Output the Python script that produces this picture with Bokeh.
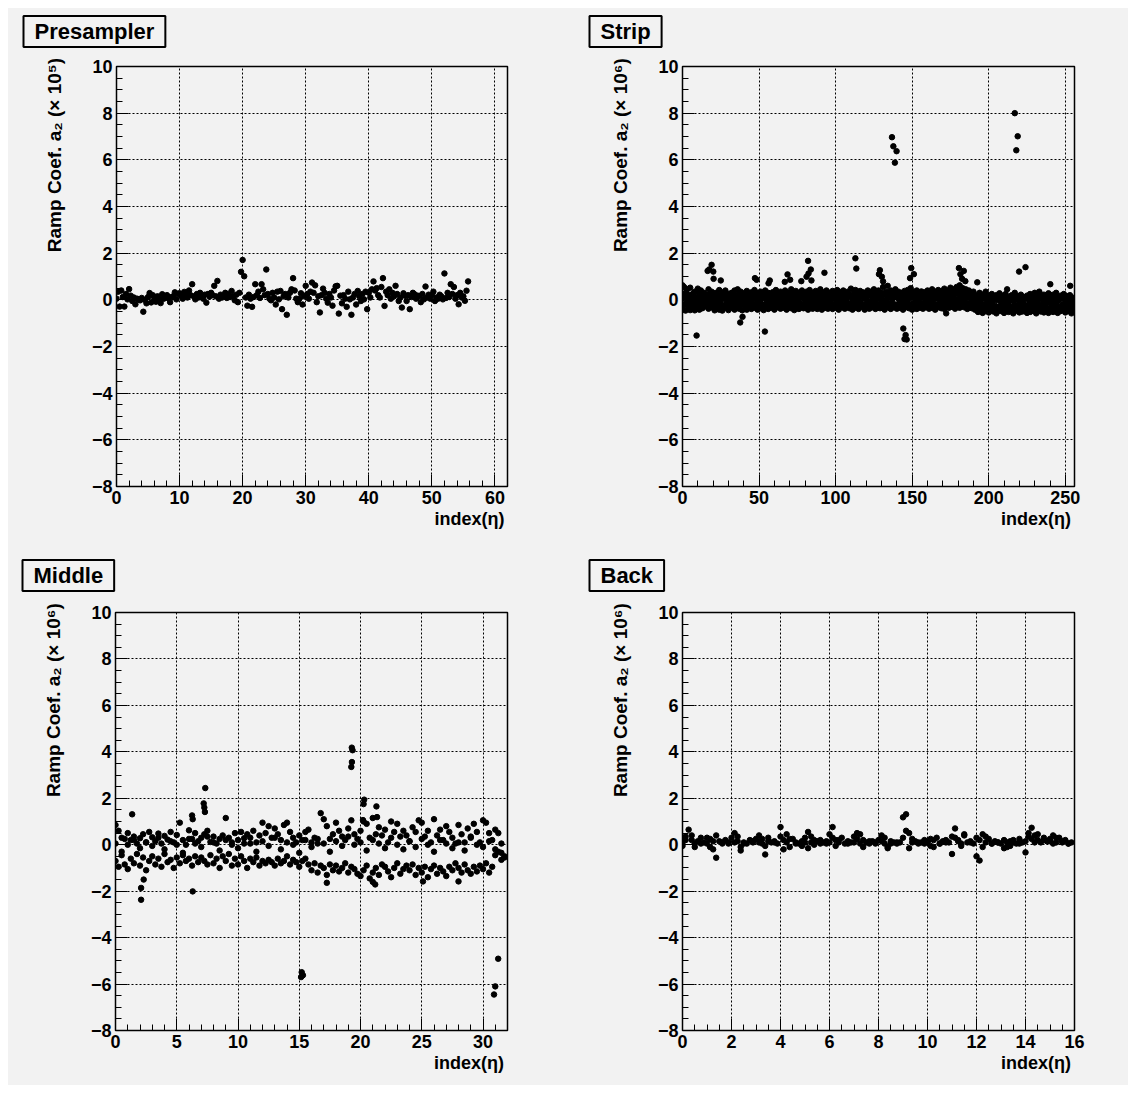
import math
from bokeh.plotting import figure
from bokeh.models import Range1d, FixedTicker, Label, Spacer
from bokeh.layouts import column, row
from bokeh.embed import file_html
from bokeh.resources import INLINE

nan = float("nan")
BG = "#f2f2f2"
FONT = "Liberation Sans"
NBSP = "\u00a0"

# ---------------- data ----------------
panel_titles = ["Presampler", "Strip", "Middle", "Back"]
y_titles = ["Ramp Coef. a\u2082 (\u00d7 10\u2075)", "Ramp Coef. a\u2082 (\u00d7 10\u2076)",
            "Ramp Coef. a\u2082 (\u00d7 10\u2076)", "Ramp Coef. a\u2082 (\u00d7 10\u2076)"]
x_title = "index(\u03b7)"
y_ticks = [-8, -6, -4, -2, 0, 2, 4, 6, 8, 10]

# Presampler: four phi groups per eta index 0..55
pres_k0 = [0.05,0.12,0.46,-0.19,0.08,0.12,0.02,-0.14,0.20,0.15, 0.28,0.22,0.67,0.10,0.22,0.30,0.81,0.18,0.12,0.22,
           1.71,0.22,0.67,0.67,0.25,0.10,0.38,-0.64,0.93,0.05, 0.60,0.74,0.15,0.30,0.10,0.60,0.20,0.02,-0.20,0.25,
           0.30,0.40,0.55,0.20,0.15,0.10,-0.05,0.30,0.15,0.57, 0.20,0.05,1.13,0.67,0.20,0.15]
pres_k1 = [0.35,-0.29,0.18,0.05,-0.51,0.29,-0.08,0.24,0.06,0.32, 0.18,0.10,0.15,0.30,-0.12,0.20,0.05,0.30,0.38,-0.10,
           1.01,0.05,0.20,0.45,0.05,-0.20,-0.40,0.10,0.40,0.28, 0.25,0.30,-0.54,0.05,-0.25,-0.59,0.05,-0.64,0.38,0.02,
           0.10,0.50,0.93,0.45,0.60,-0.33,0.20,0.24,-0.10,0.10, 0.35,0.22,0.08,0.25,-0.19,-0.04]
pres_k2 = [-0.29,0.25,-0.05,0.02,0.00,-0.11,0.15,0.05,-0.10,0.02, 0.05,0.40,0.02,0.18,0.25,0.60,0.22,0.08,0.15,0.30,
           0.10,-0.30,0.35,0.20,-0.02,0.35,0.15,0.30,0.05,-0.20, 0.05,0.62,0.20,-0.12,0.40,0.18,-0.30,0.10,0.15,0.35,
           0.45,0.20,-0.26,0.05,0.25,0.28,-0.40,0.05,0.25,0.22, -0.05,0.15,0.30,0.55,0.30,0.39]
pres_k3 = [0.40,0.02,0.10,-0.02,-0.15,0.20,0.03,0.10,0.12,0.26, 0.34,0.20,0.25,0.05,0.14,0.15,0.10,0.25,-0.02,1.20,
           -0.25,0.12,0.08,1.30,0.30,0.02,0.25,0.45,-0.10,0.15, 0.35,-0.10,0.48,0.25,0.58,-0.15,0.35,0.25,-0.05,-0.40,
           0.79,0.10,0.35,0.30,-0.05,0.18,0.12,0.18,0.02,0.05, 0.10,0.02,0.12,0.05,0.10,0.79]

# Strip: three values per eta index 0..255, plus isolated points
strip_a = [0.62,0.55,0.30,0.45,0.10,0.52,0.20,-0.10,0.35,0.05,0.48,0.25,0.40,0.15,0.30,0.05,
           0.20,0.45,0.10,0.35,0.28,0.05,0.30,0.15,0.42,0.20,0.08,0.33,0.40,0.12,0.25,0.05,
           0.30,0.18,0.40,0.10,0.45,0.22,0.35,0.05,0.28,0.15,0.38,0.20,0.10,0.32,0.25,0.42,
           0.15,0.30,0.05,0.35,0.22,0.10,0.40,0.18,0.30,0.25,0.08,0.33,0.20,0.42,0.12,0.28,
           0.35,0.05,0.22,0.40,0.15,0.30,0.10,0.45,0.25,0.18,0.38,0.05,0.30,0.22,0.40,0.12,
           0.28,0.35,0.10,0.42,0.20,0.30,0.15,0.38,0.05,0.25,0.45,0.18,0.32,0.10,0.40,0.22,
           0.30,0.12,0.38,0.25,0.05,0.42,0.20,0.33,0.15,0.40,0.28,0.10,0.35,0.22,0.48,0.18,
           0.30,0.42,0.10,0.25,0.38,0.15,0.32,0.05,0.28,0.40,0.20,0.35,0.12,0.45,0.25,0.30,
           0.40,0.18,0.30,0.55,0.22,0.35,0.60,0.25,0.40,0.15,0.30,0.45,0.20,0.35,0.10,0.30,
           0.25,0.38,0.15,0.42,0.30,0.50,0.20,0.35,0.12,0.40,0.28,0.18,0.36,0.10,0.32,0.25,
           0.40,0.15,0.30,0.45,0.22,0.35,0.12,0.42,0.28,0.38,0.18,0.48,0.25,0.40,0.30,0.52,
           0.35,0.45,0.28,0.55,0.40,0.62,0.30,0.50,0.38,0.45,0.25,0.40,0.32,0.20,0.35,0.15,
           0.20,0.10,0.30,0.05,0.22,0.12,0.35,0.02,0.18,0.08,0.25,0.00,0.15,0.20,0.05,0.28,
           0.10,0.18,0.02,0.25,0.45,0.12,0.05,0.20,0.10,0.30,0.02,0.15,0.08,0.22,0.00,0.12,
           0.05,0.18,0.10,0.25,0.02,0.15,0.30,0.08,0.20,0.35,0.12,0.05,0.22,0.10,0.18,0.28,
           0.05,0.15,0.22,0.08,0.30,0.12,0.02,0.18,0.10,0.25,0.05,0.15,0.08,0.20,0.12,0.02]
strip_b = [0.05,-0.20,0.15,-0.10,0.22,-0.05,0.10,0.28,-0.15,0.12,0.00,-0.22,0.18,-0.08,0.05,0.20,
           -0.12,0.08,0.25,-0.05,0.10,-0.18,0.02,0.20,-0.10,0.15,-0.25,0.05,0.12,-0.08,0.22,0.00,
           -0.15,0.10,-0.05,0.20,0.02,-0.20,0.12,-0.08,0.18,0.00,-0.12,0.08,0.22,-0.05,0.10,-0.18,
           0.05,-0.10,0.20,-0.02,0.15,-0.22,0.08,0.00,-0.15,0.12,0.20,-0.08,0.05,-0.18,0.10,0.02,
           -0.05,0.18,-0.20,0.10,0.00,0.22,-0.12,0.05,0.15,-0.08,0.25,-0.15,0.02,0.12,-0.22,0.08,
           0.00,-0.10,0.20,0.05,-0.18,0.12,-0.05,0.22,0.02,-0.15,0.10,-0.02,0.18,-0.20,0.08,0.00,
           -0.12,0.15,0.02,-0.20,0.22,-0.05,0.10,-0.15,0.05,0.18,-0.08,0.00,0.25,-0.18,0.12,-0.02,
           0.08,-0.15,0.20,0.00,-0.10,0.15,-0.22,0.05,0.12,-0.05,0.22,-0.12,0.02,0.18,-0.08,0.10,
           -0.18,0.05,0.15,-0.02,0.25,-0.10,0.08,0.20,-0.15,0.00,0.12,-0.20,0.18,0.05,-0.08,0.22,
           0.02,-0.12,0.15,-0.05,0.20,0.08,-0.18,0.12,0.00,0.22,-0.10,0.05,0.18,-0.15,0.10,-0.02,
           0.15,-0.08,0.22,0.02,-0.15,0.12,0.05,-0.20,0.18,0.00,-0.10,0.25,0.08,-0.05,0.15,0.02,
           -0.12,0.20,0.05,-0.08,0.28,0.10,-0.02,0.18,0.00,0.22,-0.15,0.08,0.12,-0.10,0.05,-0.20,
           -0.05,-0.25,0.10,-0.15,-0.30,0.05,-0.20,-0.10,0.02,-0.35,-0.08,0.12,-0.25,-0.02,-0.40,0.08,
           -0.15,-0.30,0.05,-0.10,-0.45,-0.20,0.00,-0.35,-0.05,-0.22,0.10,-0.40,-0.12,-0.28,0.02,-0.18,
           -0.35,0.05,-0.22,-0.10,-0.48,-0.15,0.00,-0.30,-0.08,-0.25,0.05,-0.40,-0.12,-0.20,-0.02,-0.35,
           -0.10,-0.28,0.00,-0.45,-0.15,-0.05,-0.32,0.05,-0.20,-0.38,-0.08,-0.15,-0.42,0.00,-0.25,-0.12]
strip_c = [-0.42,-0.22,-0.46,-0.15,-0.34,-0.44,-0.26,-0.11,-0.45,-0.30,-0.19,-0.42,-0.22,-0.36,-0.15,-0.28,
           -0.19,-0.38,-0.26,-0.11,-0.34,-0.45,-0.21,-0.30,-0.42,-0.15,-0.46,-0.26,-0.34,-0.19,-0.44,-0.22,
           -0.34,-0.17,-0.42,-0.26,-0.11,-0.38,-0.22,-0.45,-0.19,-0.32,-0.42,-0.14,-0.28,-0.39,-0.21,-0.34,
           -0.26,-0.42,-0.15,-0.36,-0.22,-0.44,-0.19,-0.30,-0.39,-0.11,-0.34,-0.26,-0.42,-0.21,-0.32,-0.15,
           -0.38,-0.22,-0.34,-0.17,-0.42,-0.28,-0.14,-0.36,-0.24,-0.44,-0.19,-0.32,-0.39,-0.15,-0.26,-0.36,
           -0.21,-0.34,-0.42,-0.17,-0.28,-0.38,-0.22,-0.11,-0.39,-0.30,-0.19,-0.42,-0.26,-0.34,-0.15,-0.38,
           -0.30,-0.19,-0.39,-0.26,-0.34,-0.14,-0.42,-0.22,-0.32,-0.19,-0.38,-0.28,-0.15,-0.36,-0.24,-0.42,
           -0.19,-0.34,-0.26,-0.39,-0.15,-0.30,-0.22,-0.42,-0.34,-0.21,-0.38,-0.26,-0.32,-0.17,-0.39,-0.28,
           -0.22,-0.36,-0.17,-0.30,-0.42,-0.26,-0.14,-0.34,-0.39,-0.21,-0.32,-0.26,-0.38,-0.19,-0.34,-0.28,
           -0.42,-0.22,-0.32,-0.15,-0.36,-0.26,-0.42,-0.21,-0.30,-0.39,-0.19,-0.34,-0.28,-0.38,-0.17,-0.32,
           -0.26,-0.38,-0.19,-0.34,-0.28,-0.42,-0.22,-0.32,-0.15,-0.36,-0.26,-0.39,-0.21,-0.30,-0.34,-0.19,
           -0.30,-0.21,-0.38,-0.26,-0.17,-0.34,-0.28,-0.11,-0.32,-0.22,-0.39,-0.19,-0.30,-0.36,-0.22,-0.42,
           -0.36,-0.52,-0.24,-0.44,-0.56,-0.32,-0.48,-0.28,-0.54,-0.40,-0.20,-0.50,-0.36,-0.58,-0.30,-0.44,
           -0.48,-0.28,-0.56,-0.38,-0.22,-0.52,-0.42,-0.32,-0.58,-0.24,-0.46,-0.36,-0.54,-0.28,-0.50,-0.40,
           -0.32,-0.56,-0.44,-0.52,-0.24,-0.48,-0.38,-0.58,-0.28,-0.46,-0.50,-0.20,-0.54,-0.36,-0.44,-0.56,
           -0.40,-0.30,-0.52,-0.22,-0.46,-0.56,-0.36,-0.48,-0.28,-0.44,-0.54,-0.34,-0.24,-0.50,-0.58,-0.38]
strip_out_x = [136.8,137.7,139.8,138.7,217.0,218.9,218.0,
               9.2,53.8,144.2,145.7,146.4,145.0,37.7,39.2,172.2,
               16.4,17.4,19.0,20.1,20.3,25.0,47.3,48.4,56.2,57.0,
               66.8,68.6,70.3,77.6,81.0,82.0,82.3,83.8,84.2,92.7,112.9,113.5,
               128.3,128.9,130.2,131.0,148.6,149.4,151.1,180.5,181.5,182.6,183.7,184.7,
               192.5,219.8,224.0,240.2,253.2]
strip_out_y = [6.97,6.58,6.37,5.88,8.00,7.01,6.41,
               -1.53,-1.36,-1.23,-1.51,-1.70,-1.68,-0.97,-0.73,-0.58,
               1.24,1.30,1.50,1.21,0.90,0.83,0.93,0.86,0.71,0.83,
               0.77,1.09,0.86,0.80,0.99,1.67,1.13,1.30,0.83,1.16,1.78,1.34,
               1.10,1.27,0.99,0.79,0.93,1.36,1.10,1.36,1.10,0.90,1.24,0.80,
               0.75,1.21,1.40,0.67,0.60]

# Middle: quarter-step positions (upper and lower populations), half-step central values, isolated points
mid_hi = [0.85,0.60,0.30,0.25, 0.50,0.20,0.35,0.05, 0.28,0.45,0.10,0.55, 0.32,0.15,0.48,0.05,
          0.38,0.22,0.55,0.10, 0.42,0.95,0.20,0.00, 0.62,0.25,0.50,0.15, 0.30,0.45,0.60,0.12,
          0.35,0.05,0.25,0.40, 1.15,0.30,0.10,0.50, 0.20,0.55,0.05,0.45, 0.30,0.60,0.10,0.40,
          0.95,0.50,0.80,0.30, 0.70,0.45,0.20,0.85, 0.95,0.55,0.30,0.10, 0.40,0.20,0.55,0.65,
          0.10,0.30,0.05,1.36, 1.10,0.80,0.25,0.45, 0.95,0.60,0.35,0.20, 0.70,1.05,0.45,0.25,
          0.60,1.00,0.90,0.30, 1.15,0.45,0.75,0.40, 0.65,0.10,1.00,0.55, 0.90,0.35,0.60,0.40,
          0.15,0.75,0.55,1.05, 0.95,0.35,0.60,0.10, 1.10,0.40,0.65,0.20, 0.80,0.55,0.30,0.05,
          0.85,0.45,0.10,0.70, 0.35,0.90,0.55,0.10, 1.05,0.95,0.50,0.20, 0.65,0.50,-0.35,-0.55]
mid_lo = [-0.70,-0.95,-0.45,-0.85, -1.05,-0.60,-0.80,-0.40, -0.90,-0.55,-1.10,-0.70, -0.50,-0.85,-0.60,-0.95,
          -0.40,-0.75,-0.65,-1.00, -0.55,-0.80,-0.45,-0.70, -0.60,-0.90,-0.50,-0.75, -0.55,-0.70,-0.85,-0.45,
          -0.80,-0.60,-1.00,-0.50, -0.70,-0.40,-0.90,-0.60, -0.85,-0.50,-0.70,-1.00, -0.60,-0.75,-0.55,-0.90,
          -0.70,-0.80,-0.65,-0.75, -0.90,-0.60,-0.80,-0.70, -0.50,-0.85,-0.65,-0.75, -0.95,-0.70,-0.60,-0.85,
          -1.10,-0.80,-1.20,-0.90, -1.00,-1.30,-0.85,-1.10, -0.90,-1.15,-1.00,-0.80, -1.20,-0.95,-1.05,-1.25,
          -1.35,-1.10,-0.90,-1.45, -1.20,-1.00,-1.30,-0.85, -0.95,-1.15,-1.40,-1.00, -0.80,-1.25,-1.05,-0.90,
          -1.10,-0.85,-1.30,-1.00, -1.20,-0.95,-1.40,-1.05, -0.90,-1.25,-1.00,-1.15, -1.35,-0.95,-1.10,-0.80,
          -1.00,-1.20,-0.85,-1.10, -1.25,-0.95,-1.15,-0.90, -1.05,-0.80,-1.20,-0.95, -0.45,-0.30,-0.65,-0.50]
mid_mid = [0.05,-0.30,0.00,0.20,-0.15,0.10,-0.05,0.30, -0.20,0.15,0.00,-0.35,0.25,0.05,-0.10,0.35,
           0.10,-0.25,0.20,0.00,-0.15,0.28,0.05,-0.30, 0.15,-0.05,0.30,-0.20,0.10,0.00,-0.35,0.20,
           -0.10,0.25,0.05,-0.30,0.15,-0.05,0.35,0.00, 0.10,-0.25,0.20,0.05,-0.15,0.30,0.00,-0.20,
           0.15,-0.10,0.25,0.00,-0.30,0.20,0.05,-0.15, 0.10,-0.25,0.30,0.00,-0.10,0.15,-0.20,0.05]
mid_out_x = [1.36,6.25,6.3,7.2,7.25,7.3,7.33, 19.25,19.3,19.35,19.29, 20.2,20.25,20.3, 21.3,21.35,
             2.09,2.09,2.3,6.3,17.25,21.0,21.2,25.1,28.0, 15.15,15.2,15.3, 31.24,31.0,30.9]
mid_out_y = [1.31,1.26,1.10,1.78,1.60,1.41,2.44, 3.35,3.56,4.07,4.18, 1.06,1.75,1.94, 1.65,1.19,
             -1.86,-2.37,-1.50,-2.01,-1.64,-1.60,-1.71,-1.58,-1.58, -5.70,-5.49,-5.62, -4.91,-6.10,-6.45]

# Back: eighth-step positions, two readings each (nan = no point)
back_a = [0.10,0.35,0.65,0.20,0.05,0.15,0.30,0.10, 0.05,0.25,-0.20,0.40,0.15,0.10,0.20,0.05,
          0.30,0.50,0.15,-0.10,0.10,0.05,0.20,0.10, 0.25,0.40,0.05,-0.42,0.30,0.10,0.15,0.05,
          0.76,0.20,0.45,-0.10,0.25,0.10,0.05,0.15, 0.30,0.55,0.10,0.00,0.15,0.20,0.10,0.05,
          0.45,0.76,0.20,0.10,0.30,0.05,0.15,0.10, 0.35,0.50,0.05,0.20,0.10,0.05,0.15,0.10,
          0.20,0.40,0.05,-0.10,0.15,0.10,0.05,0.10, 0.30,1.31,0.50,0.10,0.15,0.05,0.10,0.20,
          0.10,0.25,-0.10,0.30,0.05,0.15,0.20,0.10, 0.35,0.70,0.20,0.05,0.40,0.10,0.15,0.05,
          0.30,-0.68,0.45,0.10,0.25,0.05,0.15,0.10, 0.05,0.20,-0.10,0.15,0.10,0.05,0.25,0.10,
          0.15,0.35,0.73,0.40,0.20,0.10,0.30,0.15, 0.25,0.40,0.10,0.30,0.15,0.20,0.05,0.10]
back_b = [-0.05,0.20,nan,0.40,-0.10,nan,0.05,nan, 0.30,-0.10,0.15,-0.56,nan,0.05,nan,0.10,
          nan,0.10,0.35,-0.25,0.05,nan,nan,0.15, nan,0.10,0.25,-0.05,0.15,nan,0.10,nan,
          0.35,-0.20,0.10,0.25,nan,0.05,nan,-0.05, 0.10,-0.15,0.35,0.20,nan,0.05,nan,0.15,
          0.10,0.30,-0.05,0.20,nan,nan,0.05,nan, 0.10,0.25,0.45,-0.10,nan,0.15,nan,0.05,
          nan,0.15,0.30,-0.15,0.05,nan,0.10,nan, 1.18,0.60,-0.15,0.25,nan,0.10,nan,0.05,
          0.15,-0.05,0.20,nan,0.05,nan,0.10,nan, -0.40,0.30,0.15,-0.05,0.45,nan,0.10,nan,
          -0.50,0.20,-0.10,0.35,nan,0.05,nan,0.10, nan,-0.15,0.10,-0.05,0.20,nan,0.05,nan,
          -0.33,0.50,0.25,0.10,0.45,nan,0.20,nan, 0.15,0.05,0.30,nan,0.10,nan,0.05,nan]


# ---------------- helpers ----------------
def make_panel(xmax, xmajor, xminor_step, w, h, bl, br, bt, bb, ytitle):
    p = figure(width=w, height=h, x_range=Range1d(0, xmax), y_range=Range1d(-8, 10),
               output_backend="svg", toolbar_location=None,
               min_border_left=bl, min_border_right=br, min_border_top=bt, min_border_bottom=bb,
               background_fill_color=BG, border_fill_color=BG)
    p.outline_line_color = "black"
    p.outline_line_width = 1.5
    p.outline_line_alpha = 1
    xt = FixedTicker(ticks=xmajor, minor_ticks=[i * xminor_step for i in range(int(round(xmax / xminor_step)) + 1)])
    yt = FixedTicker(ticks=y_ticks, minor_ticks=[-8 + 0.5 * i for i in range(37)])
    for ax, t in ((p.xaxis[0], xt), (p.yaxis[0], yt)):
        ax.ticker = t
        ax.major_tick_in = 12
        ax.major_tick_out = 0
        ax.minor_tick_in = 6
        ax.minor_tick_out = 0
        ax.major_tick_line_color = "black"
        ax.minor_tick_line_color = "black"
        ax.axis_line_color = "black"
        ax.major_label_text_font = FONT
        ax.major_label_text_font_style = "bold"
        ax.major_label_text_font_size = "18px"
        ax.major_label_text_color = "black"
        ax.axis_label_text_font = FONT
        ax.axis_label_text_font_style = "bold"
        ax.axis_label_text_color = "black"
        ax.axis_label_align = "center"
    p.xaxis[0].major_label_standoff = 4
    p.yaxis[0].major_label_standoff = 4
    # axis titles are centred on the axis; leading no-break spaces push the visible words
    # to the far end, where the reference's right-aligned titles sit
    p.xaxis[0].axis_label = NBSP * 63 + x_title
    p.xaxis[0].axis_label_text_font_size = "18px"
    p.xaxis[0].axis_label_standoff = 2
    p.yaxis[0].axis_label = NBSP * 46 + ytitle
    p.yaxis[0].axis_label_text_font_size = "19px"
    p.yaxis[0].axis_label_standoff = 24
    p.xgrid[0].ticker = xt
    p.ygrid[0].ticker = yt
    for g in (p.xgrid[0], p.ygrid[0]):
        g.grid_line_color = "black"
        g.grid_line_dash = "2 2"
        g.grid_line_width = 1
    return p


def title_box(p, title, tyc):
    # placed in the panel above the frame; x from the frame's left edge, y upward from the frame's top
    p.add_layout(Label(x=-93, y=tyc, x_units="screen", y_units="screen", text=title,
                       text_font=FONT, text_font_style="bold", text_font_size="22px",
                       text_align="left", text_baseline="middle", text_color="black",
                       background_fill_color=BG, border_line_color="black", border_line_width=2,
                       padding=(11, 3)), "above")


MS = 5.5

# Presampler
p1 = make_panel(62, [0, 10, 20, 30, 40, 50, 60], 2, 560, 538, 108, 61, 58, 60, y_titles[0])
for k, arr in enumerate((pres_k0, pres_k1, pres_k2, pres_k3)):
    p1.scatter([i + 0.25 * k for i in range(len(arr))], arr, size=MS, color="black")
title_box(p1, panel_titles[0], 35)

# Strip
p2 = make_panel(256, [0, 50, 100, 150, 200, 250], 10, 560, 538, 114, 54, 58, 60, y_titles[1])
for arr in (strip_a, strip_b, strip_c):
    p2.scatter(list(range(len(arr))), arr, size=MS, color="black")
p2.scatter(strip_out_x, strip_out_y, size=MS, color="black")
title_box(p2, panel_titles[1], 35)

# Middle
p3 = make_panel(32, [0, 5, 10, 15, 20, 25, 30], 1, 560, 539, 107, 61, 66, 55, y_titles[2])
for arr in (mid_hi, mid_lo):
    p3.scatter([0.25 * j for j in range(len(arr))], arr, size=MS, color="black")
p3.scatter([0.5 * j for j in range(len(mid_mid))], mid_mid, size=MS, color="black")
p3.scatter(mid_out_x, mid_out_y, size=MS, color="black")
title_box(p3, panel_titles[2], 37)

# Back
p4 = make_panel(16, [0, 2, 4, 6, 8, 10, 12, 14, 16], 0.5, 560, 539, 114, 54, 66, 55, y_titles[3])
for arr in (back_a, back_b):
    p4.scatter([0.125 * j for j in range(len(arr))], arr, size=MS, color="black")
title_box(p4, panel_titles[3], 37)

bgstyle = {"background-color": BG}
grid = column(row(p1, p2, styles=bgstyle), row(p3, p4, styles=bgstyle), styles=bgstyle)
layout = column(Spacer(width=1128, height=8), row(Spacer(width=8, height=1077), grid))
open("out.html", "w").write(file_html(layout, INLINE))
